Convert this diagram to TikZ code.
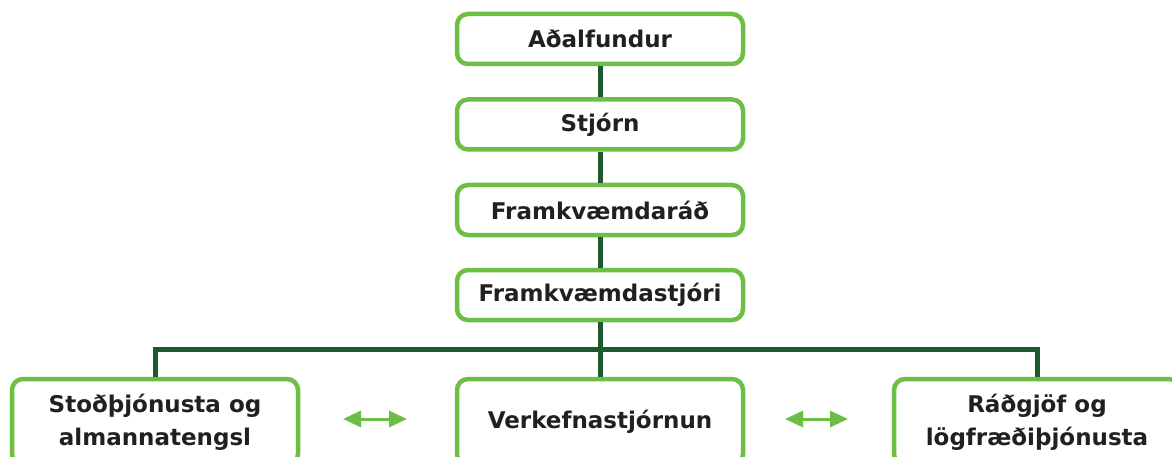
\documentclass[tikz,border=0pt]{standalone}
\usepackage{fontspec}
\setmainfont{DejaVu Sans}
\usetikzlibrary{arrows.meta}
\definecolor{boxgreen}{HTML}{6CBE45}
\definecolor{linegreen}{HTML}{1C5A2D}
\definecolor{txt}{HTML}{231F20}
\begin{document}
\begin{tikzpicture}[x=1pt,y=-1pt,
  orgbox/.style={draw=boxgreen, line width=4.5pt, rounded corners=11pt, fill=white,
    minimum width=286pt, minimum height=50pt, inner sep=0pt, text=txt,
    font=\fontsize{23}{33}\selectfont\bfseries, align=center},
  lowbox/.style={orgbox, minimum height=86pt},
  conn/.style={draw=linegreen, line width=5pt},
  dbl/.style={draw=boxgreen, line width=3pt, {Triangle[length=18pt,width=16pt]}-{Triangle[length=18pt,width=16pt]}}
]
\useasboundingbox (0,0) rectangle (1172,457);
\clip (0,0) rectangle (1172,457);
\fill[white] (0,0) rectangle (1172,457);
\coordinate (hl) at (155,349);
\coordinate (hm) at (600,349);
\coordinate (hr) at (1037,349);
\node[orgbox] (a) at (600,39) {Aðalfundur};
\node[orgbox] (s) at (600,124.5) {Stjórn};
\node[orgbox] (f) at (600,210) {Framkvæmdaráð};
\node[orgbox] (fs) at (600,295) {Framkvæmdastjóri};
\path[conn] (a.south) -- (s.north);
\path[conn] (s.south) -- (f.north);
\path[conn] (f.south) -- (fs.north);
\node[lowbox] (l) at (155,422) {Stoðþjónusta og\\almannatengsl};
\node[lowbox] (m) at (600,422) {Verkefnastjórnun};
\node[lowbox] (r) at (1037,422) {Ráðgjöf og\\lögfræðiþjónusta};
\path[conn] (fs.south) -- (m.north);
\path[conn] (l.north -| hl) -- (hl) -- (hr) -- (r.north -| hr);
\coordinate (a1) at (343,419);
\coordinate (a2) at (407,419);
\coordinate (a3) at (785,419);
\coordinate (a4) at (848,419);
\draw[dbl] (a1) -- (a2);
\draw[dbl] (a3) -- (a4);
\end{tikzpicture}
\end{document}
